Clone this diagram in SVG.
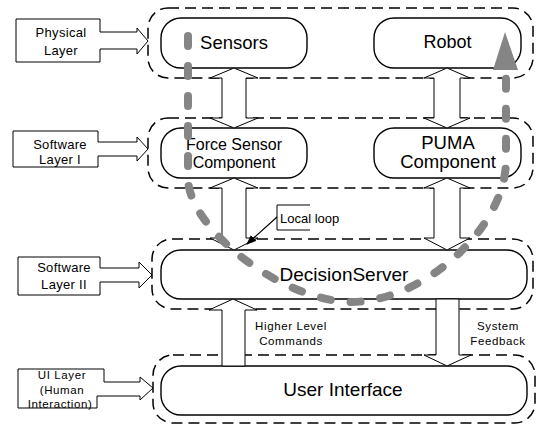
<svg xmlns="http://www.w3.org/2000/svg" width="540" height="428" viewBox="0 0 540 428">
<defs>
<style>
.layer{fill:none;stroke:#000;stroke-width:1.5;stroke-dasharray:11 6}
.node{fill:#fff;stroke:#000;stroke-width:1.4}
.blk{fill:#fff;stroke:#000;stroke-width:1}
.t{font-family:"Liberation Sans",Arial,sans-serif;fill:#000;text-anchor:middle}
.nt{font-size:19px}
.lt{font-size:13px;letter-spacing:0.3px}
.st{font-size:11.5px;letter-spacing:0.6px}
.loop{fill:none;stroke:#858585;stroke-width:8;stroke-linecap:round;stroke-dasharray:10 20}
</style>
<marker id="ah" markerWidth="10" markerHeight="8" refX="9" refY="4" orient="auto" markerUnits="userSpaceOnUse">
<path d="M0,0 L10,4 L0,8 Z" fill="#000"/>
</marker>
</defs>
<rect width="540" height="428" fill="#fff"/>
<g id="layers">
<rect id="physical-layer" class="layer" x="148" y="8" width="385" height="70" rx="20"/>
<rect id="software-layer-1" class="layer" x="148" y="118" width="385" height="70" rx="20"/>
<rect id="software-layer-2" class="layer" x="152" y="239" width="381" height="70" rx="20"/>
<rect id="ui-layer" class="layer" x="153" y="355" width="382" height="68" rx="20"/>
</g>
<g id="sensors"><rect class="node" x="161" y="18" width="146" height="50" rx="20"/><text class="t" x="234" y="49" style="font-size:18.5px">Sensors</text></g>
<g id="robot"><rect class="node" x="374" y="18" width="147" height="50" rx="20"/><text class="t" x="447.5" y="48" style="font-size:18px">Robot</text></g>
<g id="force-sensor"><rect class="node" x="161" y="128" width="146" height="50" rx="20"/><text class="t" x="234" y="150" style="font-size:16px">Force Sensor</text><text class="t" x="234" y="168" style="font-size:16px">Component</text></g>
<g id="puma"><rect class="node" x="374" y="128" width="147" height="50" rx="20"/><text class="t" x="448" y="149" style="font-size:18.5px">PUMA</text><text class="t" x="448" y="168" style="font-size:18.5px">Component</text></g>
<g id="decision-server"><rect class="node" x="161" y="250" width="366" height="49" rx="20"/><text class="t nt" x="344" y="281">DecisionServer</text></g>
<g id="user-interface"><rect class="node" x="161" y="366" width="366" height="49" rx="20"/><text class="t nt" x="343" y="396">User Interface</text></g>
<g id="label-physical">
<path class="blk" d="M16,19 H100 V32 H137 V28 L148,41 L137,54 V49 H100 V62 H16 Z"/>
<text class="t lt" x="61" y="37">Physical</text><text class="t lt" x="61" y="55">Layer</text>
</g>
<g id="label-software-1">
<path class="blk" d="M13,131 H98 V142 H137 V137 L148,149 L137,161 V156 H98 V167 H13 Z"/>
<text class="t lt" x="60" y="149">Software</text><text class="t lt" x="60" y="164">Layer I</text>
</g>
<g id="label-software-2">
<path class="blk" d="M18,257 H100 V268 H139 V262 L152,275 L139,288 V282 H100 V295 H18 Z"/>
<text class="t lt" x="64" y="272">Software</text><text class="t lt" x="64" y="289">Layer II</text>
</g>
<g id="label-ui">
<path class="blk" d="M18,369 H104 V382 H140 V377 L153,388 L140,400 V396 H97 V408 H18 Z"/>
<text class="t st" x="62" y="379">UI Layer</text><text class="t st" x="62" y="394">(Human</text><text class="t st" x="60" y="408">Interaction)</text>
</g>
<g id="connectors">
<path class="blk" d="M234,68 L258,78 L246,78 L246,118 L258,118 L234,128 L210,118 L222,118 L222,78 L210,78 Z"/>
<path class="blk" d="M447,68 L470,78 L460,78 L460,118 L470,118 L447,128 L424,118 L434,118 L434,78 L424,78 Z"/>
<path class="blk" d="M234,178 L258,188 L246,188 L246,238 L258,238 L234,250 L210,238 L222,238 L222,188 L210,188 Z"/>
<path class="blk" d="M447,178 L470,188 L460,188 L460,238 L470,238 L447,250 L424,238 L434,238 L434,188 L424,188 Z"/>
<path class="blk" d="M233,299 L257,310 L245,310 L245,366 L222,366 L222,310 L209,310 Z"/>
<path class="blk" d="M436,299 L459,299 L459,355 L471,355 L447,366 L424,355 L436,355 Z"/>
<text class="t st" x="291" y="330">Higher Level</text><text class="t st" x="291" y="345">Commands</text>
<text class="t st" x="498" y="330">System</text><text class="t st" x="498" y="345">Feedback</text>
</g>
<g id="local-loop">
<path d="M310,205 H277 V230 H310" fill="none" stroke="#000" stroke-width="1"/>
<line x1="277" y1="217" x2="247" y2="244" stroke="#000" stroke-width="1.2" marker-end="url(#ah)"/>
<text x="280" y="223" style="font-family:'Liberation Sans',Arial,sans-serif;font-size:13px">Local loop</text>
</g>
<g id="loop-path">
<path class="loop" d="M188,36 L188,178 C188,228 280,300 350,302 C420,303 506,230 506,160 L506,75"/>
<path d="M505,32 L518,70 L493,70 Z" fill="#858585"/>
</g>
</svg>
